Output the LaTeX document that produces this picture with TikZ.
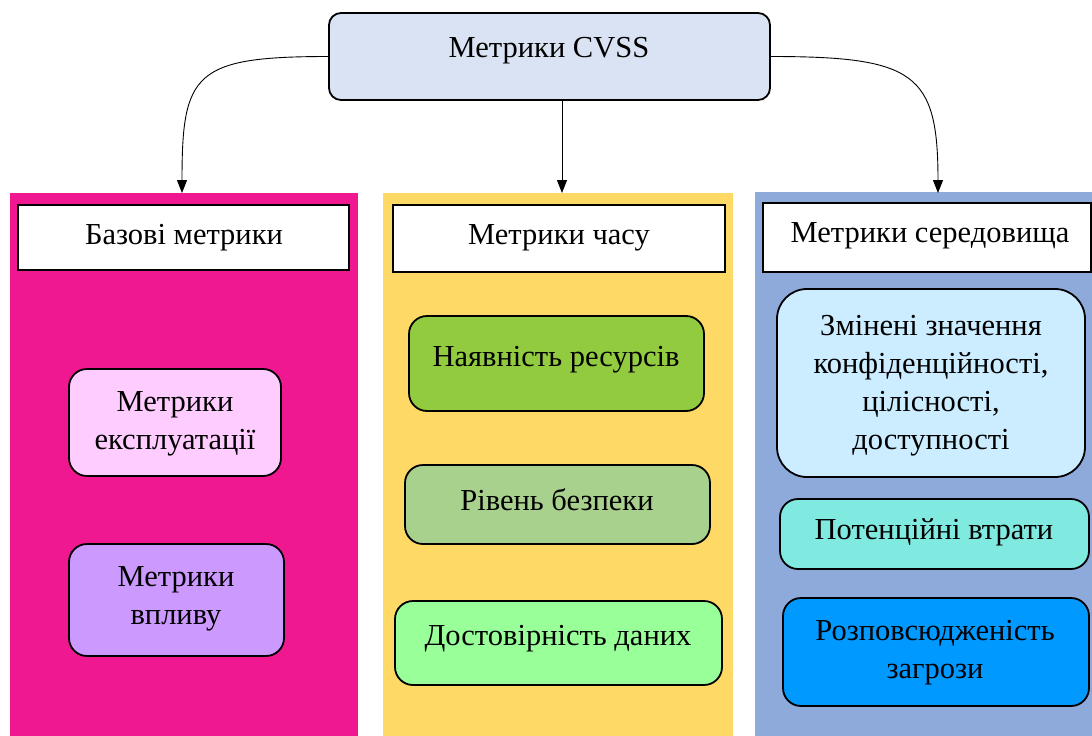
\documentclass[tikz,border=0pt]{standalone}
\usepackage{fontspec}
\setmainfont{Liberation Serif}
\usetikzlibrary{arrows.meta,calc}
\definecolor{colpink}{RGB}{240,24,145}
\definecolor{colyellow}{RGB}{255,217,102}
\definecolor{colblue}{RGB}{142,170,219}
\definecolor{topfill}{RGB}{218,227,243}
\definecolor{fexploit}{RGB}{255,204,255}
\definecolor{fimpact}{RGB}{204,153,255}
\definecolor{fres}{RGB}{146,202,64}
\definecolor{fsafe}{RGB}{169,209,142}
\definecolor{fdata}{RGB}{153,255,153}
\definecolor{fconf}{RGB}{204,236,255}
\definecolor{floss}{RGB}{128,234,224}
\definecolor{fthreat}{RGB}{0,153,255}
\begin{document}
\begin{tikzpicture}[x=1pt,y=-1pt,
  colbg/.style={draw=none,inner sep=0pt,outer sep=0pt},
  header/.style={draw=black,line width=1.8pt,fill=white,inner sep=0pt,outer sep=0pt},
  rbox/.style={draw=black,line width=1.8pt,rounded corners=18pt,inner sep=0pt,outer sep=0pt},
  txt/.style={inner sep=0pt,align=center,font=\fontsize{30.5}{38}\selectfont},
  arr/.style={line width=0.9pt,-{Triangle[length=13pt,width=10pt]}}]
\path[fill=white] (0,0) rectangle (1092,736);
\useasboundingbox (0,0) rectangle (1092,736);

% columns
\node[colbg,fill=colpink,minimum width=348pt,minimum height=543pt] (colA) at (184,464.5) {};
\node[colbg,fill=colyellow,minimum width=350pt,minimum height=543pt] (colB) at (558,464.5) {};
\node[colbg,fill=colblue,minimum width=337pt,minimum height=544pt] (colC) at (923.5,464) {};

% top
\node[rbox,rounded corners=12pt,fill=topfill,minimum width=441pt,minimum height=87pt] (top) at (549.5,56.5) {};
\node[txt] (topt) at (549,50.5) {Метрики CVSS};

% arrow end points
\coordinate (aL) at (182,193);
\coordinate (aM) at (562,193);
\coordinate (aR) at (938,193);
\draw[arr] (top.west) .. controls +(-135,0) and +(0,-120) .. (aL);
\draw[arr] (top.south -| aM) -- (aM);
\draw[arr] (top.east) .. controls +(145,0) and +(0,-120) .. (aR);

% headers
\node[header,minimum width=331pt,minimum height=65pt] (hA) at (183.5,237.5) {};
\node[txt] (hAt) at (184,238) {Базові метрики};
\node[header,minimum width=332pt,minimum height=67pt] (hB) at (559,238.5) {};
\node[txt] (hBt) at (559,238) {Метрики часу};
\node[header,minimum width=328pt,minimum height=69pt] (hC) at (927,237.5) {};
\node[txt] (hCt) at (930,236) {Метрики середовища};

% column A
\node[rbox,fill=fexploit,minimum width=212pt,minimum height=107pt] (exploit) at (175,422.5) {};
\node[txt] (exploitt) at (175,424) {Метрики\\експлуатації};
\node[rbox,fill=fimpact,minimum width=215pt,minimum height=112pt] (impact) at (176.5,600) {};
\node[txt] (impactt) at (176,599) {Метрики\\впливу};

% column B
\node[rbox,fill=fres,minimum width=295pt,minimum height=95pt] (res) at (556.5,363.5) {};
\node[txt] (rest) at (556,359.5) {Наявність ресурсів};
\node[rbox,fill=fsafe,minimum width=305pt,minimum height=79pt] (safe) at (557.5,504.5) {};
\node[txt] (safet) at (557,499.5) {Рівень безпеки};
\node[rbox,fill=fdata,minimum width=327pt,minimum height=84pt] (data) at (558.5,643) {};
\node[txt] (datat) at (558,638.5) {Достовірність даних};

% column C
\node[rbox,rounded corners=30pt,fill=fconf,minimum width=308pt,minimum height=188pt] (conf) at (931,383) {};
\node[txt] (conft) at (931,386) {Змінені значення\\конфіденційності,\\цілісності,\\доступності};
\node[rbox,fill=floss,minimum width=309pt,minimum height=70pt] (loss) at (934.5,534) {};
\node[txt] (losst) at (934,532.5) {Потенційні втрати};
\node[rbox,fill=fthreat,minimum width=306pt,minimum height=108pt] (threat) at (936,652) {};
\node[txt] (threatt) at (935,653) {Розповсюдженість\\загрози};
\end{tikzpicture}
\end{document}
